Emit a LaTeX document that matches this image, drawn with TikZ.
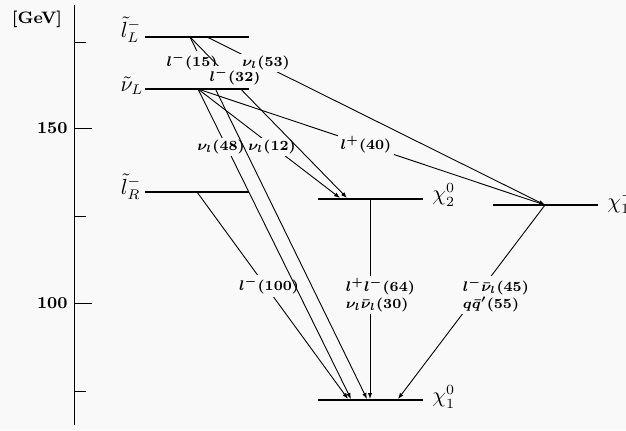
\documentclass[tikz,border=0pt]{standalone}
\usetikzlibrary{arrows.meta}
\definecolor{bgc}{RGB}{249,249,249}
\begin{document}
\begin{tikzpicture}[x=0.5pt,y=-0.5pt,
  level/.style={line width=0.75pt},
  plain/.style={line width=0.5pt},
  decay/.style={line width=0.45pt,-{Latex[length=3pt,width=2.2pt]}},
  lab/.style={fill=bgc,inner sep=1.2pt,font=\fontsize{6.8}{8.5}\selectfont\boldmath},
  lablock/.style={lab,anchor=west,align=left},
  lvl/.style={font=\fontsize{10.5}{12}\selectfont,inner sep=0pt},
  ax/.style={font=\fontsize{8.3}{10}\selectfont\bfseries,inner sep=0pt}]
\fill[bgc] (0,0) rectangle (626,430);
\useasboundingbox (0,0) rectangle (626,430);

% axis
\coordinate (axtop) at (74,5);
\coordinate (axbot) at (74,425);
\draw[plain] (axtop) -- (axbot);
\foreach \yy in {42,216,391} \draw[plain] (74,\yy) -- (86,\yy);
\foreach \yy in {128,303} \draw[plain] (74,\yy) -- (92,\yy);
\node[ax] (gev) at (37,19) {[GeV]};
\node[ax,anchor=east] (l150) at (68,128) {150};
\node[ax,anchor=east] (l100) at (68,303) {100};

% levels
\draw[level] (145,37) coordinate (lLa) -- (249,37) coordinate (lLb);
\draw[level] (145,89) coordinate (nLa) -- (249,89) coordinate (nLb);
\draw[level] (145,192) coordinate (lRa) -- (249,192) coordinate (lRb);
\draw[level] (318,199) coordinate (c2l) -- (423,199) coordinate (c2r);
\draw[level] (493,205) coordinate (cml) -- (598,205) coordinate (cmr);
\draw[level] (318,400) coordinate (c1l) -- (423,400) coordinate (c1r);

\node[lvl] (slL) at (131,30) {$\tilde{l}_L^-$};
\node[lvl] (snL) at (132,86) {$\tilde{\nu}_L$};
\node[lvl] (slR) at (131,187) {$\tilde{l}_R^-$};
\node[lvl,anchor=west] (x20) at (432,195) {$\chi_2^0$};
\node[lvl,anchor=west] (x1m) at (607,202) {$\chi_1^-$};
\node[lvl,anchor=west] (x10) at (432,397) {$\chi_1^0$};

% decay end points
\coordinate (oL1) at (190,37);
\coordinate (oL2) at (207,37);
\coordinate (oN) at (198,89);
\coordinate (oR) at (197,192);
\coordinate (c2a) at (340,198);
\coordinate (c2b) at (347,198);
\coordinate (c2s) at (370,199);
\coordinate (cm) at (545,205);
\coordinate (c1a) at (348,399);
\coordinate (c1b) at (351,399);
\coordinate (c1c) at (367,399);
\coordinate (c1d) at (370,399);
\coordinate (c1e) at (398,399);

% decays with labels
\draw[decay] (oR) -- (c1a);
\node[lab] (t100) at (269,286) {$l^-(100)$};
\draw[decay] (oN) -- (c1b);
\node[lab] (t48) at (221,147) {$\nu_l(48)$};
\draw[decay] (oN) -- (c2a);
\node[lab] (t12) at (272,147) {$\nu_l(12)$};
\draw[decay] (oL1) -- (c1c);
\node[lab] (t15) at (192,62) {$l^-(15)$};
\draw[decay] (oL1) -- (c2b);
\node[lab] (t32) at (235,77) {$l^-(32)$};
\draw[decay] (oL2) -- (cm);
\node[lab] (t53) at (266,63) {$\nu_l(53)$};
\draw[decay] (oN) -- (cm);
\node[lab] (t40) at (366,145) {$l^+(40)$};
\draw[decay] (c2s) -- (c1d);
\node[lablock] (t64) at (343,295) {$l^+l^-(64)$\\$\nu_l\bar{\nu}_l(30)$};
\draw[decay] (cm) -- (c1e);
\node[lablock] (t45) at (460,295) {$l^-\bar{\nu}_l(45)$\\$q\bar{q}'(55)$};
\end{tikzpicture}
\end{document}
